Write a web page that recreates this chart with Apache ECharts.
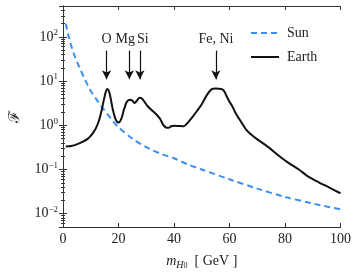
<!DOCTYPE html>
<html><head><meta charset="utf-8">
<script src="https://cdn.jsdelivr.net/npm/echarts@6/dist/echarts.min.js"></script>
<style>html,body{margin:0;padding:0;background:#fff}#c{width:354px;height:275px}</style>
</head><body><div id="c"></div>
<script>
const sunMass = [1,2,3,4,5,6,8,10,12,14,16,18,20,25,30,35,40,45,50,60,70,80,90,100];
const sunValues = [200,105,62,40,28,20,10.5,6,3.9,2.6,1.8,1.25,0.9,0.5,0.32,0.23,0.18,0.13,0.1,0.06,0.037,0.024,0.017,0.0125];
const earthMass = [1,3,5,7,9,10,11,12,13,14,15,15.9,16.6,17.2,18,19,20,21,22,23,24,25,25.8,26.6,27.6,28.5,29.5,30.5,32,33.5,35,36,37,38,39,40,42,43.5,45,46.5,48,50,52,53.5,55,57,58,59,60,61,62,63,64,66,68,70,74,78,81,85,88,92,96,100];
const earthValues = [0.33,0.34,0.37,0.42,0.5,0.58,0.7,0.9,1.3,2.3,4.5,6.6,5.8,4.0,2.2,1.35,1.15,1.4,2.3,3.4,3.8,3.6,3.2,3.6,4.2,4.0,3.3,2.7,2.2,1.8,1.4,1.05,0.9,0.88,0.95,0.98,0.96,0.95,1.15,1.5,2.0,3.0,5.0,6.5,6.8,6.6,6.0,4.5,3.4,2.7,2.0,1.55,1.25,0.8,0.6,0.48,0.32,0.2,0.145,0.1,0.072,0.052,0.039,0.029];
const annoLabels = ['O','Mg','Si','Fe, Ni'];
const annoMass = [15.7,23.9,27.7,55.1];
const arrowFrom = 49, arrowTo = 11;
const xTicks = [0,20,40,60,80,100];
const seriesNames = ['Sun','Earth'];

const F = 'Liberation Serif';
const fmtY = v => {
  const l = Math.log10(v), r = Math.round(l);
  if (Math.abs(l - r) > 1e-6) return '';
  return '{b|10}{s|' + (r < 0 ? '\u2212' + (-r) : r) + '}';
};
const yRich = {b:{fontFamily:F,fontSize:14,color:'#222'}, s:{fontFamily:F,fontSize:9,color:'#222',verticalAlign:'top',padding:[0,0,8,0]}};
const axLine = {show:true, lineStyle:{color:'#333',width:1}};
const xCommon = {type:'value', min:0, max:100, interval:20, splitLine:{show:false}, axisLine:axLine,
  axisTick:{inside:true,length:4,lineStyle:{color:'#333'}}};
const yCommon = {type:'log', min:0.005, max:500, logBase:10, splitLine:{show:false}, axisLine:axLine,
  axisTick:{inside:true,length:4,lineStyle:{color:'#333'}},
  minorTick:{show:true,splitNumber:9,length:2,lineStyle:{color:'#333'}}};

const chart = echarts.init(document.getElementById('c'), null, {renderer:'canvas'});
chart.setOption({
  animation:false,
  backgroundColor:'#fff',
  grid:{left:57.5,right:9.5,top:6,bottom:40.5},
  legend:{orient:'vertical', left:245, top:21, itemWidth:28, itemHeight:12, itemGap:10,
    itemStyle:{opacity:0},
    data:seriesNames, textStyle:{fontFamily:F,fontSize:14,color:'#222',padding:[0,0,0,3]}},
  xAxis:[
    Object.assign({}, xCommon, {position:'bottom',
      axisLabel:{fontFamily:F,fontSize:14,color:'#222',margin:5},
      name:'{i|m}{h|H}{z|0}{t|  [ GeV ]}', nameLocation:'middle', nameGap:26,
      nameTextStyle:{rich:{i:{fontFamily:F,fontStyle:'italic',fontSize:14,color:'#222'},
        h:{fontFamily:F,fontStyle:'italic',fontSize:10,color:'#222',verticalAlign:'bottom',padding:[6,0,0,0]},
        z:{fontFamily:F,fontSize:8,color:'#222',verticalAlign:'bottom',padding:[9,0,0,0]},
        t:{fontFamily:F,fontSize:14,color:'#222'}}}}),
    Object.assign({}, xCommon, {position:'top', axisLabel:{show:false}})
  ],
  yAxis:[
    Object.assign({}, yCommon, {position:'left',
      axisLabel:{formatter:fmtY, rich:yRich, margin:5, showMinLabel:false, showMaxLabel:false},
      name:'\u2131', nameLocation:'middle', nameGap:40, nameRotate:90,
      nameTextStyle:{fontFamily:'DejaVu Serif',fontSize:15,color:'#222'}}),
    Object.assign({}, yCommon, {position:'right', axisLabel:{show:false}})
  ],
  series:[
    {name:'Sun', type:'line', showSymbol:false, symbol:'none', smooth:0.3,
      data:sunMass.map((m,i)=>[m,sunValues[i]]),
      lineStyle:{color:'#3a8ff2',width:2,type:[6,4]}, itemStyle:{color:'#3a8ff2'}, z:2},
    {name:'Earth', type:'line', showSymbol:false, symbol:'none', smooth:0.3,
      data:earthMass.map((m,i)=>[m,earthValues[i]]),
      lineStyle:{color:'#111',width:2}, itemStyle:{color:'#111'}, z:3,
      markLine:{silent:true, symbol:['none','arrow'], symbolSize:[7,9], animation:false,
        lineStyle:{color:'#111',width:1.2,type:'solid'},
        label:{show:true, position:'start', distance:4, fontFamily:F, fontSize:14, color:'#222'},
        data:annoLabels.map((t,i)=>[
          {coord:[annoMass[i],arrowFrom], label:{formatter:t, offset:[t==='Mg'?-4:(t==='Si'?3:0),0]}},
          {coord:[annoMass[i],arrowTo]}])}}
  ]
});
</script></body></html>
